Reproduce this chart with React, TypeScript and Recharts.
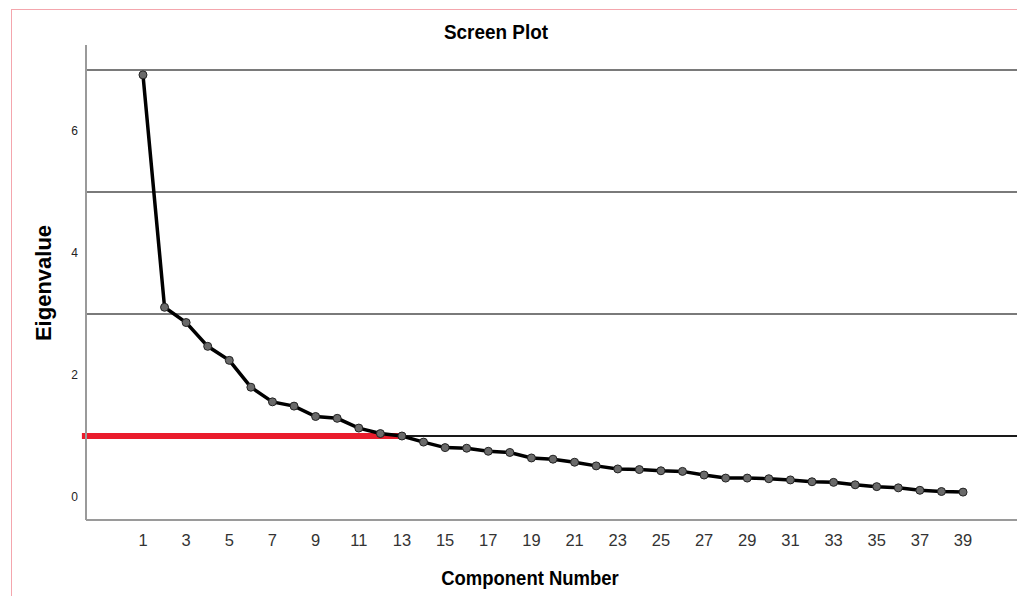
import React from "react";
import { LineChart, Line, XAxis, YAxis, ReferenceLine } from "recharts";

const components = [
  1, 2, 3, 4, 5, 6, 7, 8, 9, 10, 11, 12, 13, 14, 15, 16, 17, 18, 19, 20,
  21, 22, 23, 24, 25, 26, 27, 28, 29, 30, 31, 32, 33, 34, 35, 36, 37, 38, 39,
];
const eigenvalues = [
  6.92, 3.11, 2.86, 2.47, 2.24, 1.8, 1.56, 1.49, 1.32, 1.29, 1.13, 1.04, 1.0,
  0.9, 0.81, 0.8, 0.75, 0.73, 0.64, 0.62, 0.57, 0.51, 0.46, 0.45, 0.43, 0.42,
  0.36, 0.31, 0.31, 0.3, 0.28, 0.25, 0.24, 0.2, 0.17, 0.15, 0.11, 0.09, 0.08,
];
const xTicks = [1, 3, 5, 7, 9, 11, 13, 15, 17, 19, 21, 23, 25, 27, 29, 31, 33, 35, 37, 39];
const yTicks = [0, 2, 4, 6];
const gridValues = [3, 5, 7];
const cutoff = 1;
const cutoffComponent = 13;

const FONT = '"Liberation Sans", Arial, sans-serif';

export default function App() {
  const data = components.map((c, i) => ({ component: c, eigen: eigenvalues[i] }));

  return (
    <div
      style={{
        position: "absolute",
        left: 0,
        top: 0,
        width: 1017,
        height: 596,
        background: "#fff",
        overflow: "hidden",
        fontFamily: FONT,
      }}
    >
      <div style={{ position: "absolute", left: 11, top: 9, right: 0, height: 1, background: "#f4a6ad" }} />
      <div style={{ position: "absolute", left: 11, top: 9, bottom: 0, width: 1, background: "#f4a6ad" }} />

      <LineChart
        width={1017}
        height={596}
        data={data}
        margin={{ top: 45, right: 0, bottom: 0, left: 20 }}
        style={{ position: "absolute", left: 0, top: 0 }}
      >
        <XAxis
          dataKey="component"
          type="number"
          domain={[-1.64, 41.5]}
          ticks={xTicks}
          interval={0}
          allowDataOverflow
          height={76}
          tickLine={false}
          tickSize={0}
          tickMargin={14}
          axisLine={{ stroke: "#9a9a9a", strokeWidth: 2 }}
          tick={{ fontSize: 16.5, fill: "#333", fontFamily: FONT }}
        />
        <YAxis
          type="number"
          domain={[-0.377, 7.41]}
          ticks={yTicks}
          interval={0}
          allowDataOverflow
          width={66}
          tickLine={false}
          tickSize={0}
          tickMargin={8}
          axisLine={{ stroke: "#9a9a9a", strokeWidth: 2 }}
          tick={{ fontSize: 12, fill: "#222", fontFamily: FONT }}
        />
        {gridValues.map((v) => (
          <ReferenceLine key={v} y={v} stroke="#7a7a7a" strokeWidth={2} />
        ))}
        <ReferenceLine y={cutoff} stroke="#1a1a1a" strokeWidth={2} />
        <ReferenceLine
          segment={[
            { x: -1.83, y: cutoff },
            { x: cutoffComponent, y: cutoff },
          ]}
          ifOverflow="visible"
          stroke="#ea1c2c"
          strokeWidth={6}
        />
        <Line
          type="linear"
          dataKey="eigen"
          stroke="#000"
          strokeWidth={3.5}
          dot={{ r: 4, fill: "#6a6a6a", stroke: "#222", strokeWidth: 1 }}
          isAnimationActive={false}
        />
      </LineChart>

      <div
        style={{
          position: "absolute",
          left: 396,
          top: 20,
          width: 200,
          textAlign: "center",
          fontWeight: "bold",
          fontSize: 21,
          color: "#000",
          transform: "scaleX(0.9)",
        }}
      >
        Screen Plot
      </div>
      <div
        style={{
          position: "absolute",
          left: 380,
          top: 566,
          width: 300,
          textAlign: "center",
          fontWeight: "bold",
          fontSize: 21,
          color: "#000",
          transform: "scaleX(0.88)",
        }}
      >
        Component Number
      </div>
      <div
        style={{
          position: "absolute",
          left: 44,
          top: 283,
          transform: "translate(-50%, -50%) rotate(-90deg)",
          fontWeight: "bold",
          fontSize: 22,
          color: "#000",
          whiteSpace: "nowrap",
        }}
      >
        Eigenvalue
      </div>
    </div>
  );
}
